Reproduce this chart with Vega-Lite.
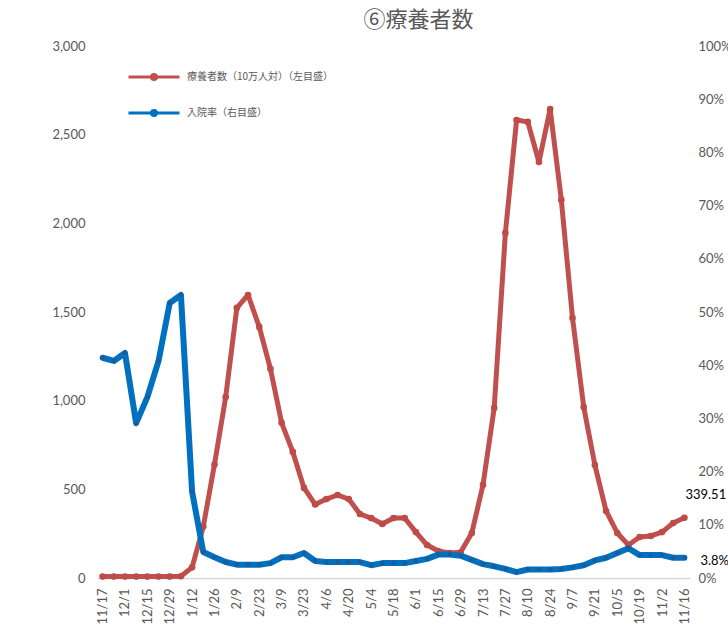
{
  "$schema": "https://vega.github.io/schema/vega-lite/v6.json",
  "width": 593,
  "height": 532,
  "autosize": {"type": "none"},
  "padding": {"left": 97, "top": 46, "right": 38, "bottom": 65},
  "background": "white",
  "config": {
    "view": {"stroke": null},
    "font": "Lato",
    "axis": {"labelFont": "Lato", "labelColor": "#595959", "labelFontSize": 13, "grid": false, "ticks": false, "title": null}
  },
  "title": {"text": "⑥療養者数", "font": "Noto Sans CJK JP", "fontSize": 22, "fontWeight": "normal", "color": "#595959", "anchor": "middle", "dx": 25, "offset": 8},
  "data": {"values": [
    {"date": "11/17", "cases": 8, "rate": 0.414},
    {"date": "11/24", "cases": 8, "rate": 0.408},
    {"date": "12/1", "cases": 8, "rate": 0.423},
    {"date": "12/8", "cases": 8, "rate": 0.291},
    {"date": "12/15", "cases": 8, "rate": 0.340},
    {"date": "12/22", "cases": 8, "rate": 0.408},
    {"date": "12/29", "cases": 8, "rate": 0.517},
    {"date": "1/5", "cases": 10, "rate": 0.532},
    {"date": "1/12", "cases": 60, "rate": 0.162},
    {"date": "1/19", "cases": 290, "rate": 0.049},
    {"date": "1/26", "cases": 640, "rate": 0.039},
    {"date": "2/2", "cases": 1020, "rate": 0.030},
    {"date": "2/9", "cases": 1523, "rate": 0.025},
    {"date": "2/16", "cases": 1596, "rate": 0.025},
    {"date": "2/23", "cases": 1416, "rate": 0.025},
    {"date": "3/2", "cases": 1180, "rate": 0.028},
    {"date": "3/9", "cases": 875, "rate": 0.039},
    {"date": "3/16", "cases": 711, "rate": 0.039},
    {"date": "3/23", "cases": 508, "rate": 0.047},
    {"date": "3/30", "cases": 415, "rate": 0.032},
    {"date": "4/6", "cases": 445, "rate": 0.030},
    {"date": "4/13", "cases": 468, "rate": 0.030},
    {"date": "4/20", "cases": 445, "rate": 0.030},
    {"date": "4/27", "cases": 361, "rate": 0.030},
    {"date": "5/4", "cases": 338, "rate": 0.024},
    {"date": "5/11", "cases": 305, "rate": 0.028},
    {"date": "5/18", "cases": 338, "rate": 0.028},
    {"date": "5/25", "cases": 338, "rate": 0.028},
    {"date": "6/1", "cases": 259, "rate": 0.032},
    {"date": "6/8", "cases": 186, "rate": 0.036},
    {"date": "6/15", "cases": 152, "rate": 0.044},
    {"date": "6/22", "cases": 141, "rate": 0.044},
    {"date": "6/29", "cases": 145, "rate": 0.042},
    {"date": "7/6", "cases": 254, "rate": 0.034},
    {"date": "7/13", "cases": 525, "rate": 0.026},
    {"date": "7/20", "cases": 959, "rate": 0.022},
    {"date": "7/27", "cases": 1946, "rate": 0.017},
    {"date": "8/3", "cases": 2583, "rate": 0.011},
    {"date": "8/10", "cases": 2572, "rate": 0.016},
    {"date": "8/17", "cases": 2346, "rate": 0.016},
    {"date": "8/24", "cases": 2645, "rate": 0.016},
    {"date": "8/31", "cases": 2132, "rate": 0.017},
    {"date": "9/7", "cases": 1466, "rate": 0.020},
    {"date": "9/14", "cases": 964, "rate": 0.024},
    {"date": "9/21", "cases": 637, "rate": 0.033},
    {"date": "9/28", "cases": 378, "rate": 0.038},
    {"date": "10/5", "cases": 254, "rate": 0.047},
    {"date": "10/12", "cases": 186, "rate": 0.056},
    {"date": "10/19", "cases": 231, "rate": 0.043},
    {"date": "10/26", "cases": 237, "rate": 0.043},
    {"date": "11/2", "cases": 259, "rate": 0.043},
    {"date": "11/9", "cases": 310, "rate": 0.038},
    {"date": "11/16", "cases": 339.51, "rate": 0.038}
  ]},
  "encoding": {
    "x": {
      "field": "date", "type": "ordinal", "sort": null,
      "scale": {"type": "point", "padding": 0.5},
      "axis": {
        "values": ["11/17","12/1","12/15","12/29","1/12","1/26","2/9","2/23","3/9","3/23","4/6","4/20","5/4","5/18","6/1","6/15","6/29","7/13","7/27","8/10","8/24","9/7","9/21","10/5","10/19","11/2","11/16"],
        "labelAngle": -90, "labelPadding": 10, "domain": true, "domainColor": "#D9D9D9", "domainWidth": 1.5
      }
    }
  },
  "layer": [
    {
      "encoding": {
        "y": {"field": "cases", "type": "quantitative", "scale": {"domain": [0, 3000], "nice": false},
          "axis": {"values": [0, 500, 1000, 1500, 2000, 2500, 3000], "format": ",d", "domain": false, "labelPadding": 12}}
      },
      "layer": [
        {
          "mark": {"type": "line", "strokeWidth": 5, "strokeJoin": "round", "strokeCap": "round"},
          "encoding": {"color": {"datum": "療養者数（10万人対）（左目盛）", "type": "nominal",
            "scale": {"domain": ["療養者数（10万人対）（左目盛）", "入院率（右目盛）"], "range": ["#C0504D", "#0070C0"]},
            "legend": {"title": null, "orient": "none", "legendX": 30, "legendY": 4, "direction": "vertical",
              "symbolType": "M-1,0H1M0,-0.1A0.1,0.1,0,1,1,0,0.1A0.1,0.1,0,1,1,0,-0.1Z",
              "symbolSize": 2600, "symbolStrokeWidth": 2.8, "labelFont": "Noto Sans CJK JP", "labelFontSize": 10,
              "labelColor": "#595959", "labelOffset": 6, "rowPadding": 0, "padding": 0}}}
        },
        {"mark": {"type": "circle", "size": 44, "color": "#BD4B48", "opacity": 1}},
        {
          "transform": [{"filter": "datum.date == '11/16'"}],
          "mark": {"type": "text", "align": "left", "baseline": "middle", "dx": 1, "dy": -23, "fontSize": 13, "color": "#000000", "font": "Lato"},
          "encoding": {"text": {"field": "cases", "type": "quantitative", "format": ".2f"}}
        }
      ]
    },
    {
      "encoding": {
        "y": {"field": "rate", "type": "quantitative", "scale": {"domain": [0, 1], "nice": false},
          "axis": {"orient": "right", "values": [0, 0.1, 0.2, 0.3, 0.4, 0.5, 0.6, 0.7, 0.8, 0.9, 1], "format": ".0%", "domain": false, "labelPadding": 8}}
      },
      "layer": [
        {
          "mark": {"type": "line", "strokeWidth": 6, "strokeJoin": "round", "strokeCap": "round"},
          "encoding": {"color": {"datum": "入院率（右目盛）", "type": "nominal"}}
        },
        {"mark": {"type": "circle", "size": 18, "color": "#25588F", "opacity": 1}},
        {
          "transform": [{"filter": "datum.date == '11/16'"}],
          "mark": {"type": "text", "align": "left", "baseline": "middle", "dx": 16, "dy": 3, "fontSize": 13, "color": "#000000", "font": "Lato"},
          "encoding": {"text": {"field": "rate", "type": "quantitative", "format": ".1%"}}
        }
      ]
    }
  ],
  "resolve": {"scale": {"y": "independent"}, "axis": {"y": "independent"}}
}
